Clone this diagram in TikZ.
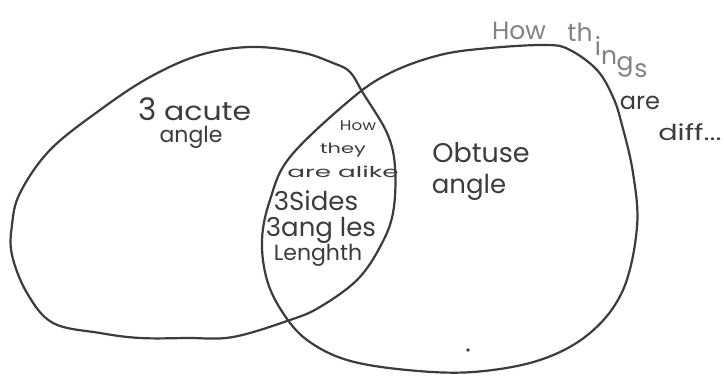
\documentclass[tikz,border=0pt]{standalone}
\usepackage{fontspec}
\setmainfont{Poppins}
\definecolor{pencil}{HTML}{3C3C3C}
\definecolor{greypencil}{HTML}{828282}
\newcommand{\ancho}[2]{\scalebox{#1}[1]{#2}}
\newcommand{\tam}[1]{\fontsize{#1}{#1}\selectfont}
\tikzset{
  trazo/.style={draw=pencil, line width=2.2pt, line join=round},
  letra/.style={text=pencil, inner sep=0pt, align=center},
  gris/.style={letra, text=greypencil, font=\tam{25}, anchor=base},
}
\begin{document}
\begin{tikzpicture}[x=1pt, y=-1pt]
    \useasboundingbox[fill=white] (0,0) rectangle (724,377);
    % Conjunto izquierdo
    \draw[trazo] plot[smooth cycle, tension=0.6] coordinates {
      (350,72) (363,93) (387,133) (395,167) (393,213) (380,247) (357,280)
      (320,307) (290,320) (233,337) (187,338) (140,338) (100,333) (53,323)
      (27,293) (12,255) (12,225) (20,193) (50,150) (100,110) (150,77)
      (200,55) (250,47) (300,52) (333,63)};
    % Conjunto derecho
    \draw[trazo] plot[smooth cycle, tension=0.6] coordinates {
      (547,45) (570,50) (597,70) (613,97) (622,125) (633,173) (637,227)
      (623,290) (590,333) (540,360) (473,372) (407,370) (347,360) (307,340)
      (283,313) (267,280) (262,240) (270,200) (290,157) (350,100) (390,73)
      (440,55) (490,48)};
    % Izquierda
    \node[letra, anchor=base] (acute) at (195,121) {{\tam{31}3}\hspace{7pt}{\tam{26}\ancho{1.15}{acute}}};
    \node[letra, anchor=base, font=\tam{22}] (acuteangle) at (191,143) {angle};
    % Centro
    \node[letra, font=\tam{14}] (how) at (358,126) {\ancho{1.2}{How}};
    \node[letra, font=\tam{14}] (they) at (343,150) {\ancho{1.5}{they}};
    \node[letra, font=\tam{15}] (alike) at (343,172) {\ancho{1.75}{are alike}};
    \node[letra, font=\tam{26}] (sides) at (316,201) {3Sides};
    \node[letra, font=\tam{26}] (angles) at (321,230) {3ang les};
    \node[letra, font=\tam{22}] (length) at (318,255) {Lenghth};
    % Derecha
    \node[letra, font=\tam{27}] (obtuse) at (481,153) {Obtuse};
    \node[letra, font=\tam{26}] (obtuseangle) at (469,187) {angle};
    % Titulo
    \node[gris] (howt) at (519,40) {How};
    \node[gris] (th) at (580,42) {th};
    \node[gris] (i) at (598,56) {i};
    \node[gris] (n) at (609,65) {n};
    \node[gris] (g) at (625,71) {g};
    \node[gris] (s) at (641,78) {s};
    \node[letra, font=\tam{24}] (are) at (640,103) {are};
    \node[letra, font=\tam{22}] (diff) at (690,132) {\ancho{1.3}{diff...}};
    % Punto
    \fill[pencil] (468,350) circle (1.8);
\end{tikzpicture}
\end{document}
